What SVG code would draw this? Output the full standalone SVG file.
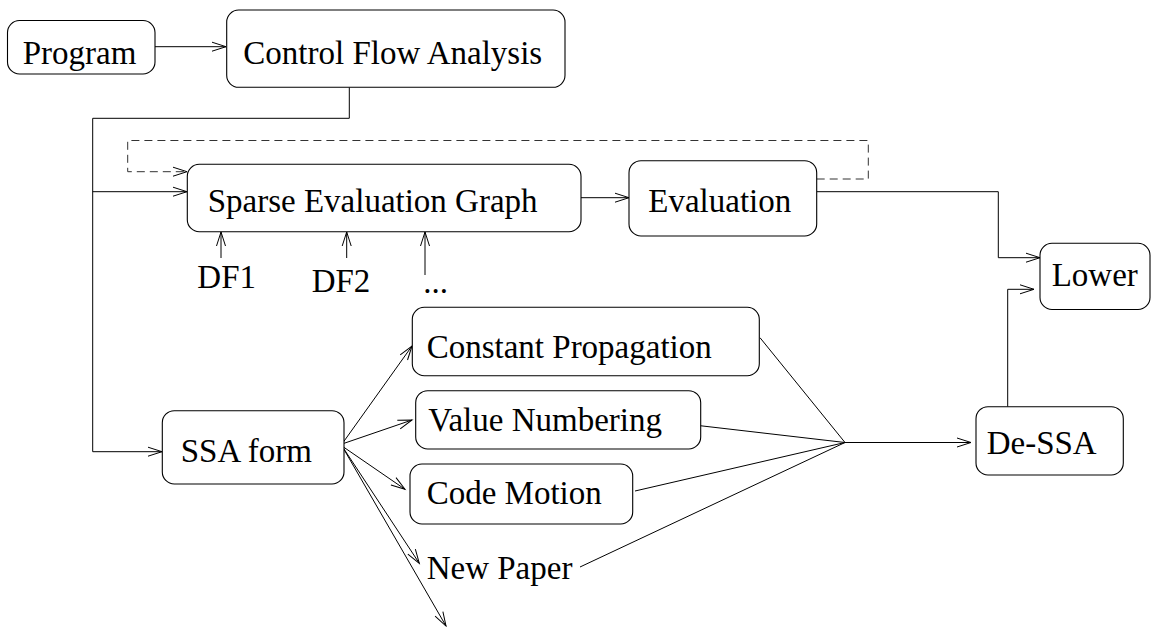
<svg xmlns="http://www.w3.org/2000/svg" width="1151" height="627" viewBox="0 0 1151 627">
  <defs>
    <marker id="arrow" markerUnits="userSpaceOnUse" markerWidth="16" markerHeight="10" refX="14" refY="4.5" orient="auto" overflow="visible">
      <path d="M0,0 L14,4.5 L0,9" fill="none" stroke="#000" stroke-width="1"/>
    </marker>
    <style>
      .box { fill: #fff; stroke: #000; stroke-width: 1.1; }
      .lbl { font-family: "Liberation Serif", "Times New Roman", serif; font-size: 33px; fill: #000; }
      .edge { fill: none; stroke: #000; stroke-width: 1; }
      .arr { marker-end: url(#arrow); }
      .dash { stroke-dasharray: 8 5; stroke: #333; }
    </style>
  </defs>
  <rect width="1151" height="627" fill="#fff"/>

  <!-- connectors -->
  <g id="connectors">
    <path class="edge arr" d="M155,46.7 H226"/>
    <path class="edge arr" d="M349.3,87.3 V118.3 H92.7 V451.7 H162"/>
    <path class="edge arr" d="M92.7,191.7 H187"/>
    <path class="edge arr dash" d="M816.7,179 H868.3 V140.5 H127.7 V171.7 H187"/>
    <path class="edge arr" d="M581,197.7 H629"/>
    <path class="edge arr" d="M817,191.7 H998.3 V257.7 H1040"/>
    <path class="edge arr" d="M1007.7,406.7 V289.3 H1034"/>
    <path class="edge arr" d="M221,258 V232"/>
    <path class="edge arr" d="M346.7,258 V232"/>
    <path class="edge arr" d="M425,275 V232"/>
    <path class="edge arr" d="M342,444 L412,346"/>
    <path class="edge arr" d="M342,444 L412,420"/>
    <path class="edge arr" d="M342,446 L405,489.3"/>
    <path class="edge arr" d="M342,446 L419.3,563.3"/>
    <path class="edge arr" d="M342,446 L446,626"/>
    <path class="edge" d="M760,337.7 L845,442.5"/>
    <path class="edge" d="M700,425.7 L845,442.5"/>
    <path class="edge" d="M635,491 L845,442.5"/>
    <path class="edge" d="M580,567 L845,442.5"/>
    <path class="edge arr" d="M845,442.5 H971"/>
  </g>

  <g id="program">
    <rect class="box" x="7.5" y="20.5" width="147.5" height="53.5" rx="12"/>
    <text class="lbl" x="22.7" y="64.3">Program</text>
  </g>
  <g id="cfa">
    <rect class="box" x="226.7" y="10" width="338.3" height="77.3" rx="12"/>
    <text class="lbl" x="243.3" y="64">Control Flow Analysis</text>
  </g>
  <g id="seg">
    <rect class="box" x="187.3" y="164.3" width="393.7" height="67.4" rx="12"/>
    <text class="lbl" x="207.7" y="211.7">Sparse Evaluation Graph</text>
  </g>
  <g id="evaluation">
    <rect class="box" x="629" y="160.7" width="187.7" height="75.3" rx="12"/>
    <text class="lbl" x="648.3" y="211.7">Evaluation</text>
  </g>
  <g id="df1">
    <text class="lbl" x="197.3" y="288.3">DF1</text>
  </g>
  <g id="df2">
    <text class="lbl" x="311.7" y="292.3">DF2</text>
  </g>
  <g id="dfmore">
    <text class="lbl" x="423.3" y="292.7">...</text>
  </g>
  <g id="lower">
    <rect class="box" x="1040" y="243.3" width="110" height="66.2" rx="12"/>
    <text class="lbl" x="1051.7" y="285.7">Lower</text>
  </g>
  <g id="ssa">
    <rect class="box" x="162.3" y="410.7" width="181.7" height="73.3" rx="12"/>
    <text class="lbl" x="180.7" y="462.3">SSA form</text>
  </g>
  <g id="constprop">
    <rect class="box" x="412.3" y="307.3" width="347" height="68.4" rx="12"/>
    <text class="lbl" x="426.7" y="358.3">Constant Propagation</text>
  </g>
  <g id="valnum">
    <rect class="box" x="415.7" y="390.7" width="285" height="58.3" rx="12"/>
    <text class="lbl" x="428.3" y="430.7">Value Numbering</text>
  </g>
  <g id="codemotion">
    <rect class="box" x="410" y="464" width="222.7" height="60" rx="12"/>
    <text class="lbl" x="426.7" y="504">Code Motion</text>
  </g>
  <g id="newpaper">
    <text class="lbl" x="426.7" y="579.3">New Paper</text>
  </g>
  <g id="dessa">
    <rect class="box" x="976" y="406.7" width="147.3" height="68.3" rx="12"/>
    <text class="lbl" x="986.7" y="454">De-SSA</text>
  </g>
</svg>
